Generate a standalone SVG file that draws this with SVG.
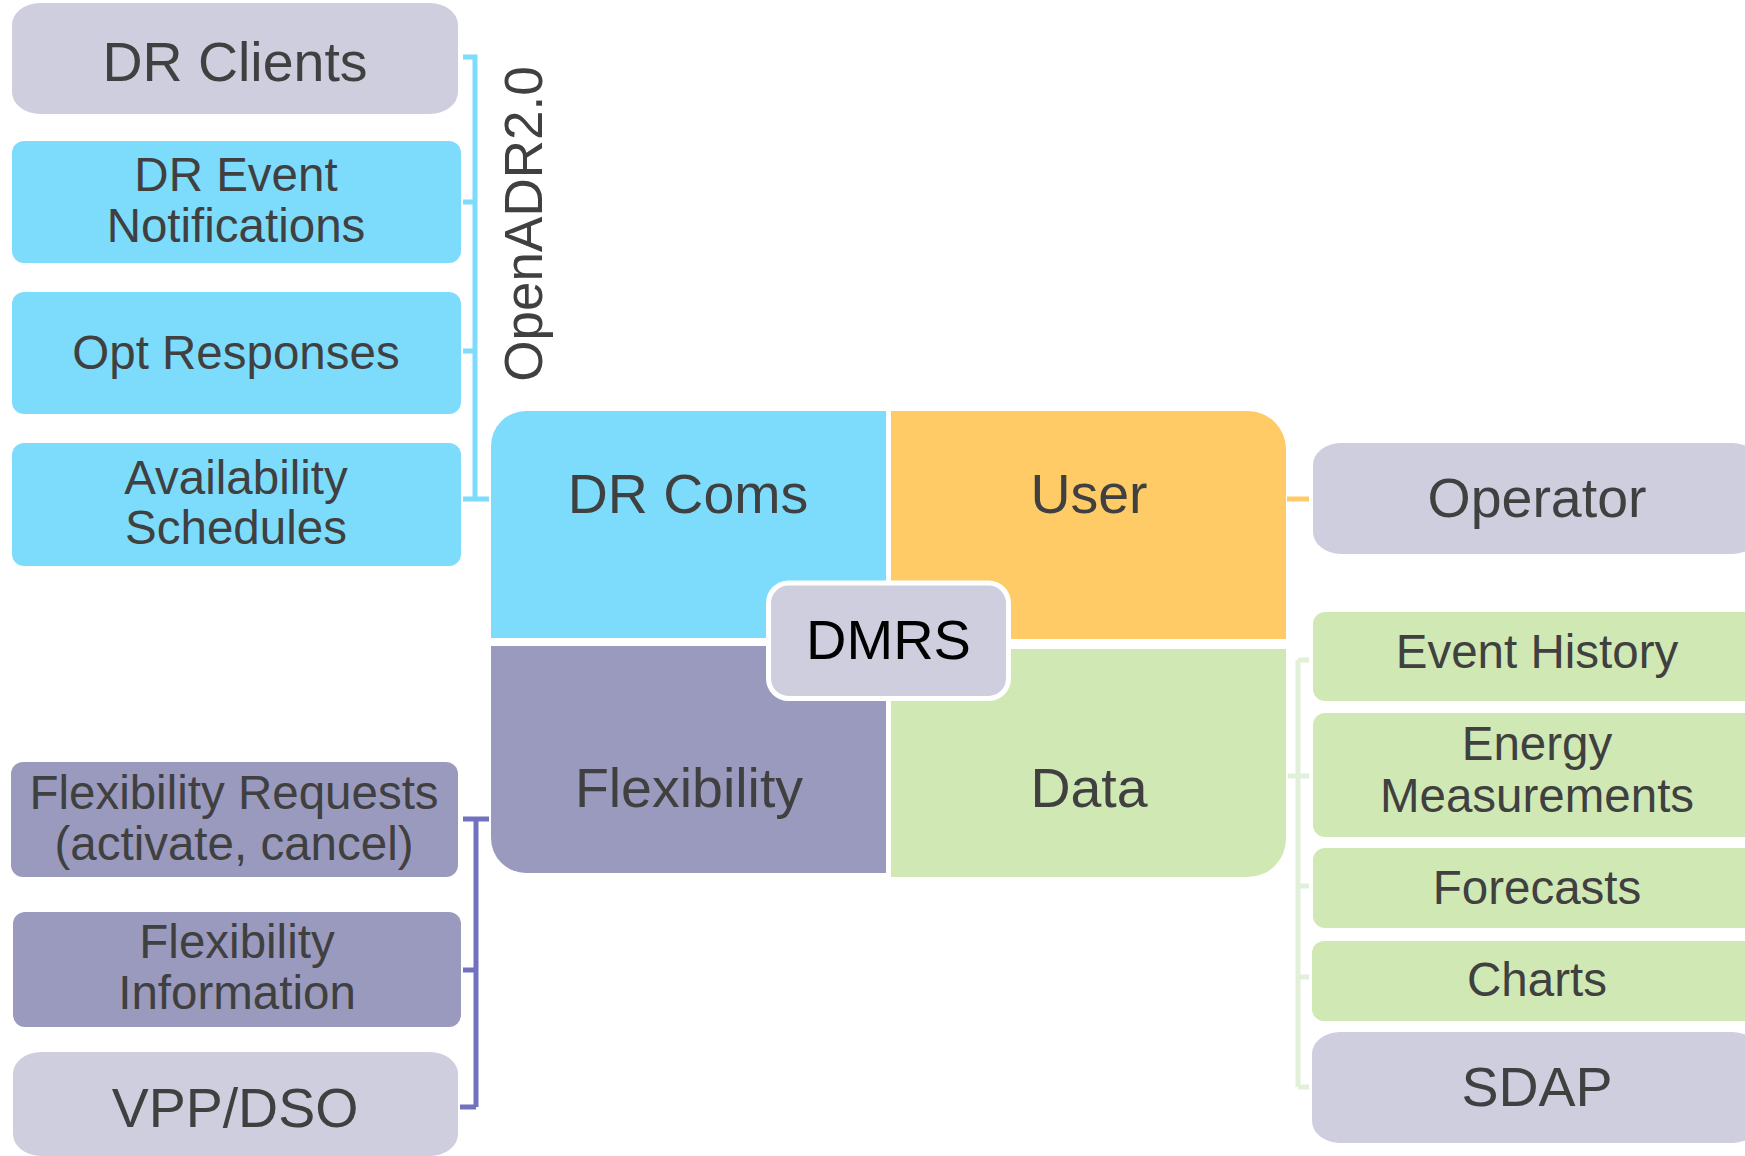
<svg xmlns="http://www.w3.org/2000/svg" width="1745" height="1156" viewBox="0 0 1745 1156">
  <style>
    text { font-family: "Liberation Sans", Arial, sans-serif; fill: #404040; text-anchor: middle; }
    .big { font-size: 55.5px; }
    .mid { font-size: 47.5px; }
    .grey { fill: #CFCEDF; }
    .cyan { fill: #7DDCFC; }
    .orange { fill: #FECB66; }
    .purple { fill: #9A9ABE; }
    .green { fill: #D0E9B4; }
    .link { fill: none; stroke-width: 5; }
  </style>

  <rect width="1745" height="1156" fill="#FFFFFF"/>

  <!-- connectors: brackets tying the side lists to the quadrants -->
  <g id="connectors">
    <path class="link" stroke="#7DDCFC" d="M463 57 H475 V499 M463 202 H475 M463 351 H475 M463 499 H489"/>
    <path class="link" stroke="#7171BF" d="M463 819 H489 M476 819 V1107 M463 970 H476 M460 1107 H476"/>
    <path class="link" stroke="#FECB66" d="M1287 499 H1309"/>
    <path class="link" stroke="#E2F0D9" d="M1298 660 V1087 M1298 660 H1309 M1288 776 H1309 M1298 886 H1309 M1298 977 H1309 M1298 1087 H1309"/>
  </g>

  <!-- left column: OpenADR messages -->
  <g id="dr-clients">
    <rect class="grey" x="12" y="3" width="446" height="111" rx="28" ry="22"/>
    <text class="big" x="235" y="81">DR Clients</text>
  </g>
  <g id="dr-event-notifications">
    <rect class="cyan" x="12" y="141" width="449" height="122" rx="12"/>
    <text class="mid" x="236" y="191">DR Event</text>
    <text class="mid" x="236" y="242">Notifications</text>
  </g>
  <g id="opt-responses">
    <rect class="cyan" x="12" y="292" width="449" height="122" rx="12"/>
    <text class="mid" x="236" y="369">Opt Responses</text>
  </g>
  <g id="availability-schedules">
    <rect class="cyan" x="12" y="443" width="449" height="123" rx="12"/>
    <text class="mid" x="236" y="494">Availability</text>
    <text class="mid" x="236" y="544">Schedules</text>
  </g>

  <g id="openadr-label">
    <text x="542" y="224" font-size="53" transform="rotate(-90 542 224)">OpenADR2.0</text>
  </g>

  <!-- left column: flexibility messages -->
  <g id="flexibility-requests">
    <rect class="purple" x="11" y="762" width="447" height="115" rx="12"/>
    <text class="mid" x="234" y="809">Flexibility Requests</text>
    <text class="mid" x="234" y="860">(activate, cancel)</text>
  </g>
  <g id="flexibility-information">
    <rect class="purple" x="13" y="912" width="448" height="115" rx="12"/>
    <text class="mid" x="237" y="958">Flexibility</text>
    <text class="mid" x="237" y="1009">Information</text>
  </g>
  <g id="vpp-dso">
    <rect class="grey" x="13" y="1052" width="445" height="104" rx="28" ry="22"/>
    <text class="big" x="235" y="1127">VPP/DSO</text>
  </g>

  <!-- central quadrants -->
  <g id="dr-coms">
    <path class="cyan" d="M491 446 A35 35 0 0 1 526 411 H886 V638 H491 Z"/>
    <text class="big" x="688" y="513">DR Coms</text>
  </g>
  <g id="user">
    <path class="orange" d="M891 411 H1248 A38 38 0 0 1 1286 449 V639 H891 Z"/>
    <text class="big" x="1089" y="513">User</text>
  </g>
  <g id="flexibility">
    <path class="purple" d="M491 646 H886 V873 H526 A35 35 0 0 1 491 838 Z"/>
    <text class="big" x="689" y="807">Flexibility</text>
  </g>
  <g id="data">
    <path class="green" d="M891 649 H1286 V839 A38 38 0 0 1 1248 877 H891 Z"/>
    <text class="big" x="1089" y="807">Data</text>
  </g>
  <g id="dmrs">
    <rect class="grey" x="768.5" y="583" width="240" height="115.5" rx="20" stroke="#FFFFFF" stroke-width="5"/>
    <text x="888.5" y="659" font-size="56" style="fill:#000000">DMRS</text>
  </g>

  <!-- right column -->
  <g id="operator">
    <rect class="grey" x="1313" y="443" width="447" height="111" rx="28" ry="22"/>
    <text class="big" x="1537" y="517">Operator</text>
  </g>
  <g id="event-history">
    <rect class="green" x="1313" y="612" width="447" height="89" rx="12"/>
    <text class="mid" x="1537" y="668">Event History</text>
  </g>
  <g id="energy-measurements">
    <rect class="green" x="1313" y="713" width="447" height="124" rx="12"/>
    <text class="mid" x="1537" y="760">Energy</text>
    <text class="mid" x="1537" y="812">Measurements</text>
  </g>
  <g id="forecasts">
    <rect class="green" x="1313" y="848" width="447" height="80" rx="12"/>
    <text class="mid" x="1537" y="904">Forecasts</text>
  </g>
  <g id="charts">
    <rect class="green" x="1312" y="941" width="448" height="80" rx="12"/>
    <text class="mid" x="1537" y="996">Charts</text>
  </g>
  <g id="sdap">
    <rect class="grey" x="1312" y="1032" width="448" height="111" rx="28" ry="22"/>
    <text class="big" x="1537" y="1106">SDAP</text>
  </g>
</svg>
